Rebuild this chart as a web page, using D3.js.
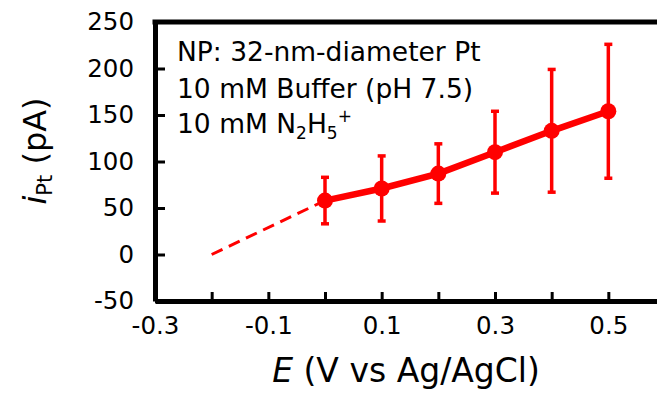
<!DOCTYPE html>
<html lang="en">
<head>
  <meta charset="UTF-8">
  <title>Pt current vs potential</title>
  <script src="https://d3js.org/d3.v7.min.js"></script>
  <style>
    body { margin: 0; background: #fff; }
    text { font-family: "DejaVu Sans", sans-serif; fill: #000; }
    .axis .domain { stroke: #000; stroke-width: 5; }
    .axis line { stroke: #000; stroke-width: 3; }
  </style>
</head>
<body>
  <svg id="chart" width="657" height="398"></svg>
  <script>
    // data
    const potentials = [0, 0.1, 0.2, 0.3, 0.4, 0.5];
    const currents = [58, 71, 87, 110, 133, 154];
    const errors = [25, 35, 32, 44, 66, 72];
    // dashed extrapolation to zero current
    const extrapE = [-0.2, 0];
    const extrapI = [0, 58];

    const xTicks = [-0.3, -0.2, -0.1, 0, 0.1, 0.2, 0.3, 0.4, 0.5, 0.6];
    const xLabels = [-0.3, -0.1, 0.1, 0.3, 0.5];
    const yTicks = [-50, 0, 50, 100, 150, 200, 250];

    const svg = d3.select("#chart");
    const red = "#ff0000";
    const hyphen = s => s.replace("\u2212", "-");

    const x = d3.scaleLinear().domain([-0.3, 0.6]).range([155, 665]);
    const y = d3.scaleLinear().domain([-50, 250]).range([301, 22]);

    // y axis, ticks pointing inside
    svg.append("g")
      .attr("class", "axis")
      .attr("transform", `translate(${x(-0.3)},0)`)
      .call(d3.axisLeft(y).tickValues(yTicks).tickSizeInner(-10).tickSizeOuter(0).tickPadding(21)
        .tickFormat(d => hyphen(String(d))))
      .call(g => g.selectAll("text").attr("font-size", 24.5).attr("font-family", null));

    // x axis
    svg.append("g")
      .attr("class", "axis")
      .attr("transform", `translate(0,${y(-50)})`)
      .call(d3.axisBottom(x).tickValues(xTicks).tickSizeInner(-9).tickSizeOuter(0).tickPadding(16)
        .tickFormat(d => xLabels.some(v => Math.abs(v - d) < 1e-9) ? hyphen(d3.format(".1f")(d)) : ""))
      .call(g => g.selectAll("text").attr("font-size", 24.5).attr("font-family", null));

    // top frame line
    svg.append("line")
      .attr("x1", x(-0.3) - 2.5).attr("x2", 657)
      .attr("y1", y(250)).attr("y2", y(250))
      .attr("stroke", "#000").attr("stroke-width", 5);

    // dashed extrapolation
    const line = d3.line().x(d => x(d[0])).y(d => y(d[1]));
    svg.append("path")
      .datum(d3.zip(extrapE, extrapI))
      .attr("d", line)
      .attr("fill", "none")
      .attr("stroke", red)
      .attr("stroke-width", 3)
      .attr("stroke-dasharray", "12,7");

    const pts = potentials.map((e, i) => ({ e: e, i: currents[i], err: errors[i] }));

    // error bars
    const eb = svg.append("g").attr("stroke", red).attr("stroke-width", 3.5);
    eb.selectAll("line.bar").data(pts).join("line").attr("class", "bar")
      .attr("x1", d => x(d.e)).attr("x2", d => x(d.e))
      .attr("y1", d => y(d.i - d.err)).attr("y2", d => y(d.i + d.err));
    eb.selectAll("line.capTop").data(pts).join("line").attr("class", "capTop")
      .attr("x1", d => x(d.e) - 4).attr("x2", d => x(d.e) + 4)
      .attr("y1", d => y(d.i + d.err)).attr("y2", d => y(d.i + d.err));
    eb.selectAll("line.capBot").data(pts).join("line").attr("class", "capBot")
      .attr("x1", d => x(d.e) - 4).attr("x2", d => x(d.e) + 4)
      .attr("y1", d => y(d.i - d.err)).attr("y2", d => y(d.i - d.err));

    // main line + markers
    svg.append("path")
      .datum(pts.map(d => [d.e, d.i]))
      .attr("d", line)
      .attr("fill", "none")
      .attr("stroke", red)
      .attr("stroke-width", 6.5);
    svg.selectAll("circle").data(pts).join("circle")
      .attr("cx", d => x(d.e)).attr("cy", d => y(d.i))
      .attr("r", 8).attr("fill", red);

    // annotation
    const note = svg.append("text").attr("x", 177).attr("font-size", 26.5);
    note.append("tspan").attr("x", 177).attr("y", 61).text("NP: 32-nm-diameter Pt");
    note.append("tspan").attr("x", 177).attr("y", 98).text("10 mM Buffer (pH 7.5)");
    note.append("tspan").attr("x", 177).attr("y", 133).text("10 mM N");
    note.append("tspan").attr("dy", 6).attr("font-size", 17).text("2");
    note.append("tspan").attr("dy", -6).text("H");
    note.append("tspan").attr("dy", 6).attr("font-size", 17).text("5");
    note.append("tspan").attr("dy", -17).attr("font-size", 17).text("+");

    // x title
    const xt = svg.append("text").attr("x", 406).attr("y", 382)
      .attr("text-anchor", "middle").attr("font-size", 33);
    xt.append("tspan").attr("font-style", "italic").text("E");
    xt.append("tspan").text(" (V vs Ag/AgCl)");

    // y title
    const yt = svg.append("text")
      .attr("transform", "translate(46,151) rotate(-90)")
      .attr("text-anchor", "middle").attr("font-size", 32);
    yt.append("tspan").attr("font-style", "italic").text("i");
    yt.append("tspan").attr("dy", 6).attr("font-size", 21).text("Pt");
    yt.append("tspan").attr("dy", -6).text(" (pA)");
  </script>
</body>
</html>
